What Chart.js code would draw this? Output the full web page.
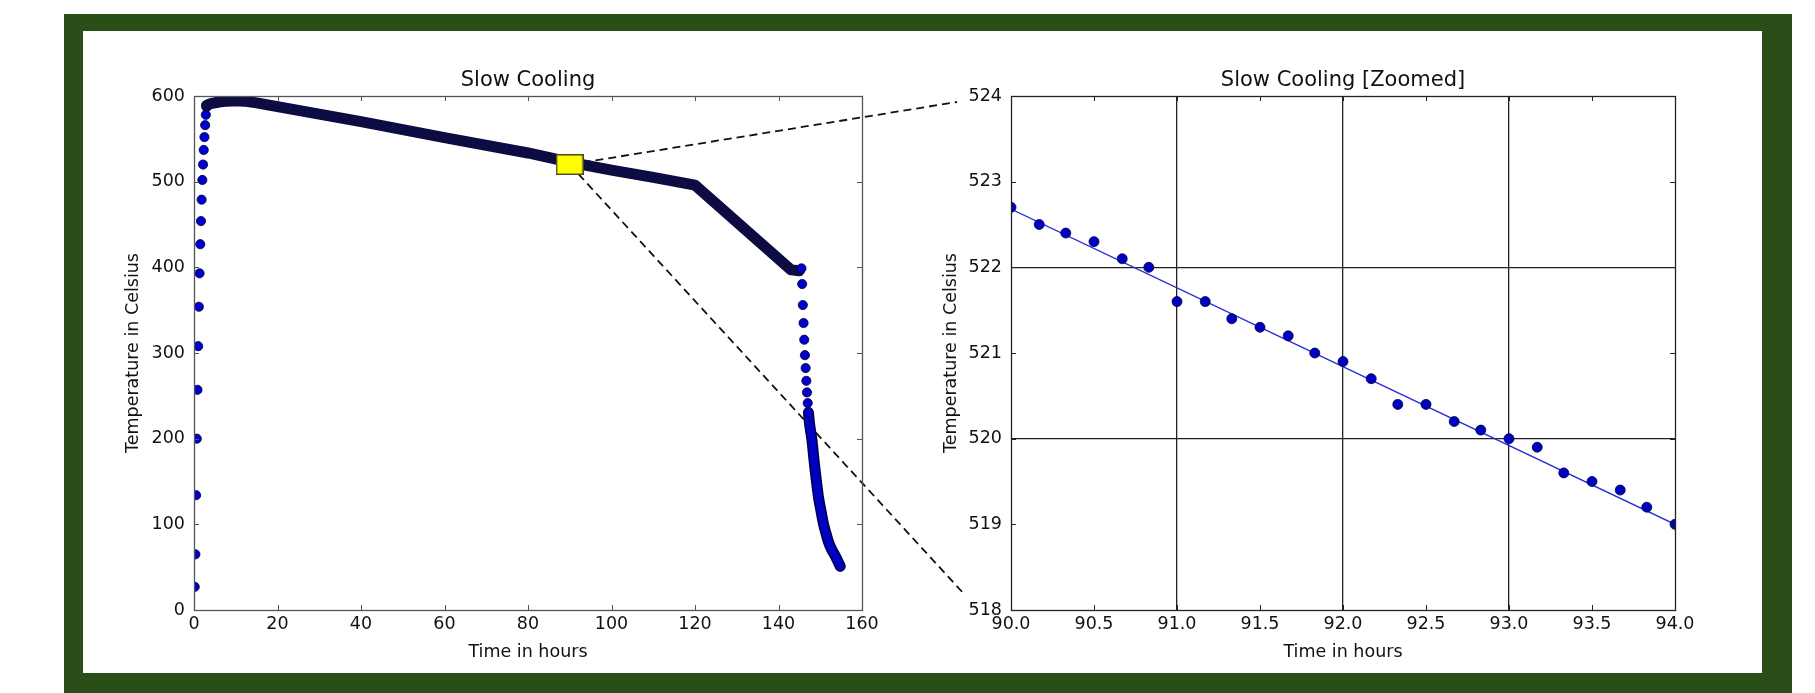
<!DOCTYPE html>
<html>
<head>
<meta charset="utf-8">
<title>Slow Cooling</title>
<script src="https://cdn.jsdelivr.net/npm/chart.js@4.4.1/dist/chart.umd.min.js"></script>
<style>
  body { margin: 0; background: #fff; width: 1815px; height: 693px; overflow: hidden; position: relative; }
  #frame { position: absolute; left: 64px; top: 14px; width: 1728px; height: 679px; background: #2a4e17; }
  #paper { position: absolute; left: 83px; top: 31px; width: 1679px; height: 642px; background: #fff; }
  canvas { position: absolute; }
  #links { left: 0; top: 0; }
  #slowChart { left: 83px; top: 31px; }
  #zoomChart { left: 930px; top: 31px; }
</style>
</head>
<body>
<div id="frame"></div>
<div id="paper"></div>
<canvas id="links" width="1815" height="693"></canvas>
<canvas id="slowChart" width="861" height="642"></canvas>
<canvas id="zoomChart" width="832" height="642"></canvas>
<script>
// heating up, one reading every 10 minutes
const heatHours = [0.17, 0.33, 0.5, 0.67, 0.83, 1.0, 1.17, 1.33, 1.5, 1.67, 1.83, 2.0, 2.17, 2.33, 2.5, 2.67, 2.83, 3.0];
const heatTemps = [27, 65, 134, 200, 257, 308, 354, 393, 427, 454, 479, 502, 520, 537, 552, 566, 578, 587];

// slow cooling, readings so dense they merge into a band
const bandHours = [3, 4, 6, 8, 10, 12, 15, 20, 40, 60, 80, 90, 94, 100, 110, 120, 143, 145];
const bandTemps = [589, 591, 593, 594, 594.5, 594, 592, 587.5, 570, 551.5, 533.5, 522.7, 519, 513.5, 505, 496, 397, 396];

// quench
const dropHours = [145.5, 145.67, 145.83, 146.0, 146.17, 146.33, 146.5, 146.67, 146.83, 147.0, 147.17];
const dropTemps = [398.8, 380.5, 356, 335, 315.5, 297.5, 282.4, 267.5, 254, 241.5, 230.5];
const tailHours = [147.17, 147.5, 148, 148.4, 148.8, 149.2, 149.6, 150.2, 150.8, 151.4, 152, 152.8, 153.6, 154.8];
const tailTemps = [230.5, 215, 199, 180, 162, 146, 131, 115, 100, 89, 79, 70, 63, 51];

// zoom window marker
const markHours = [90];
const markTemps = [520];

// zoomed readings 90h - 94h
const zoomHours = [90.0, 90.17, 90.33, 90.5, 90.67, 90.83, 91.0, 91.17, 91.33, 91.5, 91.67, 91.83, 92.0,
  92.17, 92.33, 92.5, 92.67, 92.83, 93.0, 93.17, 93.33, 93.5, 93.67, 93.83, 94.0];
const zoomTemps = [522.7, 522.5, 522.4, 522.3, 522.1, 522.0, 521.6, 521.6, 521.4, 521.3, 521.2, 521.0, 520.9,
  520.7, 520.4, 520.4, 520.2, 520.1, 520.0, 519.9, 519.6, 519.5, 519.4, 519.2, 519.0];
const fitHours = [90, 94];
const fitTemps = [522.68, 519.0];

// ticks
const slowXTicks = [0, 20, 40, 60, 80, 100, 120, 140, 160];
const slowYTicks = [0, 100, 200, 300, 400, 500, 600];
const zoomXTicks = [90.0, 90.5, 91.0, 91.5, 92.0, 92.5, 93.0, 93.5, 94.0];
const zoomYTicks = [518, 519, 520, 521, 522, 523, 524];
const zoomXGrid = [91, 92, 93];
const zoomYGrid = [520, 522];

Chart.defaults.font.family = "'DejaVu Sans', sans-serif";
Chart.defaults.font.size = 17.5;
Chart.defaults.color = '#111';

const toPoints = (xs, ys) => xs.map((x, i) => ({x: x, y: ys[i]}));

// inward tick marks and the box round the plot, like matplotlib classic
const frameTicks = {
  id: 'frameTicks',
  afterDatasetsDraw(chart, args, opts) {
    const {ctx, chartArea: a, scales: {x, y}} = chart;
    ctx.save();
    ctx.strokeStyle = opts.color;
    ctx.lineWidth = 1;
    ctx.beginPath();
    x.ticks.forEach((t, i) => {
      const px = Math.round(x.getPixelForTick(i)) + 0.5;
      ctx.moveTo(px, a.bottom); ctx.lineTo(px, a.bottom - opts.len);
      ctx.moveTo(px, a.top); ctx.lineTo(px, a.top + opts.len);
    });
    y.ticks.forEach((t, i) => {
      const py = Math.round(y.getPixelForTick(i)) + 0.5;
      ctx.moveTo(a.left, py); ctx.lineTo(a.left + opts.len, py);
      ctx.moveTo(a.right, py); ctx.lineTo(a.right - opts.len, py);
    });
    ctx.stroke();
    ctx.lineWidth = opts.width;
    ctx.strokeRect(Math.round(a.left) + 0.5, Math.round(a.top) + 0.5, Math.round(a.width), Math.round(a.height));
    ctx.restore();
  }
};

function axis(ticks, title, titlePad, size, fit) {
  return {
    type: 'linear',
    min: ticks[0],
    max: ticks[ticks.length - 1],
    afterBuildTicks: (scale) => { scale.ticks = ticks.map(v => ({value: v})); },
    afterFit: fit === 'w' ? (scale) => { scale.width = size; } : (scale) => { scale.height = size; },
    border: {display: false},
    grid: {display: false, drawTicks: false},
    ticks: {autoSkip: false, maxRotation: 0, padding: fit === 'w' ? 9 : 3.5},
    title: {display: true, text: title, padding: titlePad}
  };
}

// yellow box marking where the zoom was taken
const markBox = document.createElement('canvas');
markBox.width = 28;
markBox.height = 21;
let mctx = markBox.getContext('2d');
mctx.fillStyle = '#ffff00';
mctx.fillRect(0, 0, 28, 21);
mctx.strokeStyle = '#4a4a20';
mctx.lineWidth = 1.5;
mctx.strokeRect(0.75, 0.75, 26.5, 19.5);

const slow = new Chart(document.getElementById('slowChart'), {
  type: 'scatter',
  data: {
    datasets: [
      {data: toPoints(markHours, markTemps), pointStyle: markBox, order: 0, clip: false},
      {data: toPoints(dropHours, dropTemps), pointRadius: 4.6, backgroundColor: '#0000c8',
        borderColor: '#000040', borderWidth: 0.8, order: 1, clip: 0},
      {data: toPoints(tailHours, tailTemps), showLine: true, pointRadius: 0, borderColor: '#0000c0',
        borderWidth: 8, borderCapStyle: 'round', borderJoinStyle: 'round', tension: 0.3, order: 2, clip: 0},
      {data: toPoints(tailHours, tailTemps), showLine: true, pointRadius: 0, borderColor: '#00004a',
        borderWidth: 11, borderCapStyle: 'round', borderJoinStyle: 'round', tension: 0.3, order: 3, clip: 0},
      {data: toPoints(bandHours, bandTemps), showLine: true, pointRadius: 0, borderColor: '#0c0c42',
        borderWidth: 11, borderCapStyle: 'round', borderJoinStyle: 'round', order: 4, clip: 0},
      {data: toPoints(heatHours, heatTemps), pointRadius: 4.6, backgroundColor: '#0000c8',
        borderColor: '#000040', borderWidth: 0.8, order: 5, clip: 0}
    ]
  },
  options: {
    responsive: false,
    animation: false,
    events: [],
    layout: {padding: {left: 0, right: 82, top: 0, bottom: 0}},
    scales: {
      x: axis(slowXTicks, 'Time in hours', {top: 0, bottom: 10.5}, 63, 'h'),
      y: axis(slowYTicks, 'Temperature in Celsius', {top: 39.5, bottom: 0}, 111, 'w')
    },
    plugins: {
      legend: {display: false},
      tooltip: {enabled: false},
      title: {display: true, text: 'Slow Cooling', fullSize: false, font: {size: 21, weight: 'normal'},
        color: '#111', padding: {top: 37.4, bottom: 2.4}},
      frameTicks: {color: '#555', len: 5, width: 1.3}
    }
  },
  plugins: [frameTicks]
});

const zoom = new Chart(document.getElementById('zoomChart'), {
  type: 'scatter',
  data: {
    datasets: [
      {data: toPoints(fitHours, fitTemps), showLine: true, pointRadius: 0, borderColor: '#2a2ad6',
        borderWidth: 1.3, order: 1, clip: 0},
      {data: toPoints(zoomHours, zoomTemps), pointRadius: 5, backgroundColor: '#0000c0',
        borderColor: '#000040', borderWidth: 0.8, order: 0, clip: 0}
    ]
  },
  options: {
    responsive: false,
    animation: false,
    events: [],
    layout: {padding: {left: 0, right: 87, top: 0, bottom: 0}},
    scales: {
      x: axis(zoomXTicks, 'Time in hours', {top: 0, bottom: 10.5}, 63, 'h'),
      y: axis(zoomYTicks, 'Temperature in Celsius', {top: 10.5, bottom: 0}, 81, 'w')
    },
    plugins: {
      legend: {display: false},
      tooltip: {enabled: false},
      title: {display: true, text: 'Slow Cooling [Zoomed]', fullSize: false, font: {size: 21, weight: 'normal'},
        color: '#111', padding: {top: 37.4, bottom: 2.4}},
      frameTicks: {color: '#222', len: 5, width: 1.3}
    }
  },
  plugins: [frameTicks]
});

// gridlines only at the whole hours / even degrees
zoom.options.scales.x.ticks.callback = (v) => Number(v).toFixed(1);
zoom.options.scales.x.grid = {display: true, drawTicks: false, lineWidth: 1.3,
  color: (c) => c.tick && zoomXGrid.includes(c.tick.value) ? '#222' : 'rgba(0,0,0,0)'};
zoom.options.scales.y.grid = {display: true, drawTicks: false, lineWidth: 1.3,
  color: (c) => c.tick && zoomYGrid.includes(c.tick.value) ? '#222' : 'rgba(0,0,0,0)'};
zoom.update();

// dashed leader lines from the marker to the zoomed plot
function drawLinks() {
  const links = document.getElementById('links');
  const ctx = links.getContext('2d');
  const sc = document.getElementById('slowChart');
  const zc = document.getElementById('zoomChart');
  const fromX = sc.offsetLeft + slow.scales.x.getPixelForValue(markHours[0]);
  const fromY = sc.offsetTop + slow.scales.y.getPixelForValue(markTemps[0]);
  const a = zoom.chartArea;
  const ends = [
    [zc.offsetLeft + a.left - 54, zc.offsetTop + a.top + 6],
    [zc.offsetLeft + a.left - 46, zc.offsetTop + a.bottom - 15]
  ];
  ctx.save();
  ctx.strokeStyle = '#111';
  ctx.lineWidth = 1.8;
  ctx.setLineDash([8, 5]);
  ends.forEach(function (e) {
    ctx.beginPath();
    ctx.moveTo(fromX, fromY);
    ctx.lineTo(e[0], e[1]);
    ctx.stroke();
  });
  ctx.restore();
}

drawLinks();
</script>
</body>
</html>
